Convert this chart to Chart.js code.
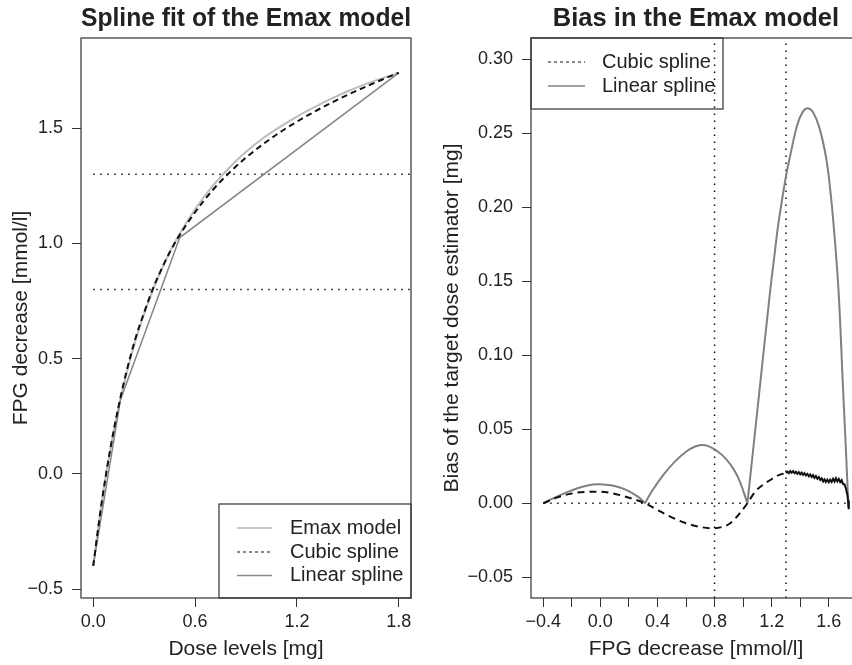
<!DOCTYPE html>
<html>
<head>
<meta charset="utf-8">
<script src="https://cdn.jsdelivr.net/npm/chart.js@4.4.1/dist/chart.umd.min.js"></script>
<style>
  html, body { margin: 0; padding: 0; background: #fff; overflow: hidden; }
  body { position: relative; width: 852px; height: 665px; }
  canvas { position: absolute; top: 0; }
  #fitChart { left: 0; }
  #biasChart { left: 430px; }
</style>
</head>
<body>
<canvas id="fitChart" width="430" height="665"></canvas>
<canvas id="biasChart" width="440" height="665"></canvas>
<script>
// left panel: fitted curves over dose
const doses = [0, 0.05, 0.1, 0.15, 0.2, 0.25, 0.3, 0.35, 0.4, 0.45, 0.5, 0.6, 0.7, 0.8, 0.9, 1.0, 1.1, 1.2, 1.3, 1.4, 1.5, 1.6, 1.7, 1.8];
const emaxCurve = [-0.4, -0.122, 0.104, 0.29, 0.446, 0.58, 0.694, 0.795, 0.882, 0.96, 1.03, 1.148, 1.246, 1.327, 1.397, 1.456, 1.505, 1.55, 1.59, 1.627, 1.66, 1.69, 1.716, 1.74];
const cubicCurve = [-0.4, -0.125, 0.105, 0.295, 0.455, 0.59, 0.70, 0.80, 0.885, 0.96, 1.025, 1.135, 1.228, 1.305, 1.372, 1.43, 1.482, 1.528, 1.57, 1.609, 1.645, 1.678, 1.71, 1.74];
const linKnots = [0, 0.16, 0.51, 1.8];
const linCurve = [-0.4, 0.32, 1.025, 1.74];
const targetFPG = [0.8, 1.3];

// right panel: bias over FPG decrease
const biasLinX1 = [-0.4, -0.32, -0.24, -0.16, -0.08, -0.02, 0.04, 0.10, 0.16, 0.22, 0.27, 0.313];
const biasLinY1 = [0, 0.0038, 0.0072, 0.0102, 0.0122, 0.0128, 0.0126, 0.0117, 0.0099, 0.0070, 0.0040, 0];
const biasLinX2 = [0.313, 0.36, 0.44, 0.52, 0.60, 0.66, 0.711, 0.76, 0.82, 0.88, 0.94, 0.98, 1.03];
const biasLinY2 = [0, 0.008, 0.019, 0.028, 0.0348, 0.0382, 0.0394, 0.0385, 0.0352, 0.030, 0.022, 0.014, 0];
const biasLinX3 = [1.03, 1.11, 1.19, 1.22, 1.247, 1.30, 1.33, 1.38, 1.42, 1.453, 1.49, 1.535, 1.582, 1.61, 1.633, 1.668, 1.70, 1.72, 1.738];
const biasLinY3 = [0, 0.072, 0.144, 0.168, 0.189, 0.221, 0.235, 0.256, 0.2648, 0.267, 0.2642, 0.2535, 0.233, 0.212, 0.189, 0.144, 0.077, 0.036, -0.0034];
const cubBiasX = [-0.4, -0.3, -0.2, -0.1, -0.02, 0.06, 0.14, 0.22, 0.313, 0.40, 0.50, 0.60, 0.70, 0.79, 0.86, 0.91, 0.97, 1.03, 1.084, 1.154, 1.21, 1.25, 1.30];
const cubBiasY = [0, 0.0040, 0.0066, 0.0077, 0.0078, 0.0072, 0.0055, 0.0032, 0, -0.0045, -0.0095, -0.0135, -0.0160, -0.0169, -0.0158, -0.0135, -0.0075, 0, 0.0078, 0.0135, 0.0169, 0.019, 0.0205];
const cubTailX = [1.30, 1.31, 1.32, 1.33, 1.34, 1.35, 1.36, 1.37, 1.38, 1.39, 1.40, 1.41, 1.42, 1.43, 1.44, 1.45, 1.46, 1.47, 1.48, 1.49, 1.50, 1.51, 1.52, 1.53, 1.54, 1.55, 1.56, 1.57, 1.58, 1.59, 1.60, 1.61, 1.62, 1.63, 1.64, 1.65, 1.66, 1.67, 1.68, 1.69, 1.70, 1.71, 1.72, 1.73, 1.735, 1.74];
const cubTailY = [0.0205, 0.0214, 0.0204, 0.0218, 0.0207, 0.0217, 0.0203, 0.0213, 0.0199, 0.0210, 0.0196, 0.0207, 0.0192, 0.0203, 0.0188, 0.0199, 0.0183, 0.0195, 0.0178, 0.0190, 0.0172, 0.0184, 0.0166, 0.0177, 0.0158, 0.0169, 0.0148, 0.0162, 0.0144, 0.0160, 0.0143, 0.0160, 0.0144, 0.0165, 0.0146, 0.0169, 0.0148, 0.0165, 0.0143, 0.0156, 0.0130, 0.0128, 0.0100, 0.0058, 0.0018, -0.0040];
const biasZeroX = [-0.4, 1.745];

// axes
const fitXRange = [-0.072, 1.872];
const fitYRange = [-0.539, 1.891];
const fitXTicks = [0, 0.6, 1.2, 1.8];
const fitXLabels = ["0.0", "0.6", "1.2", "1.8"];
const fitYTicks = [-0.5, 0, 0.5, 1.0, 1.5];
const fitYLabels = ["\u22120.5", "0.0", "0.5", "1.0", "1.5"];
const biasXRange = [-0.4856, 1.8256];
const biasYRange = [-0.064, 0.3144];
const biasXTicks = [-0.4, -0.2, 0, 0.2, 0.4, 0.6, 0.8, 1.0, 1.2, 1.4, 1.6];
const biasXLabels = ["\u22120.4", "", "0.0", "", "0.4", "", "0.8", "", "1.2", "", "1.6"];
const biasYTicks = [-0.05, 0, 0.05, 0.10, 0.15, 0.20, 0.25, 0.30];
const biasYLabels = ["\u22120.05", "0.00", "0.05", "0.10", "0.15", "0.20", "0.25", "0.30"];

const fitLegendLabels = ["Emax model", "Cubic spline", "Linear spline"];
const biasLegendLabels = ["Cubic spline", "Linear spline"];

const FONT = "'Liberation Sans', Arial, Helvetica, sans-serif";
const INK = "#222";

function pts(xs, ys) {
  return xs.map(function (x, i) { return { x: x, y: ys[i] }; });
}

// smooth: 0 = straight segments, "mono" = monotone cubic, number = tension
function line(data, color, width, dash, smooth) {
  return {
    data: data,
    showLine: true,
    borderColor: color,
    borderWidth: width,
    borderDash: dash || [],
    pointRadius: 0,
    fill: false,
    cubicInterpolationMode: smooth === "mono" ? "monotone" : "default",
    tension: typeof smooth === "number" ? smooth : 0,
  };
}

function makeScale(range, tickVals, tickLabels, title, tickPad, titlePad, size) {
  return {
    type: "linear",
    min: range[0],
    max: range[1],
    afterBuildTicks: function (s) {
      s.ticks = tickVals.map(function (v) { return { value: v }; });
    },
    afterFit: function (s) {
      if (s.isHorizontal()) s.height = size; else s.width = size;
    },
    ticks: {
      callback: function (v, i) { return tickLabels[i]; },
      font: { family: FONT, size: 18 },
      color: INK,
      padding: tickPad,
      autoSkip: false,
      maxRotation: 0,
    },
    grid: { drawOnChartArea: false, drawTicks: true, tickLength: 9, tickColor: "#333", tickWidth: 1 },
    border: { display: false },
    title: { display: true, text: title, font: { family: FONT, size: 21 }, color: INK, padding: titlePad },
  };
}

// frame round the plot area and the boxed legend
const frameAndLegend = {
  id: "frameAndLegend",
  afterDatasetsDraw: function (chart, args, opts) {
    const ctx = chart.ctx;
    const a = chart.chartArea;
    ctx.save();
    ctx.strokeStyle = "#333";
    ctx.lineWidth = 1.2;
    ctx.setLineDash([]);
    ctx.strokeRect(a.left, a.top, a.right - a.left, a.bottom - a.top);

    const b = opts.box;
    ctx.strokeRect(b[0], b[1], b[2] - b[0], b[3] - b[1]);
    ctx.font = "20px " + FONT;
    ctx.fillStyle = INK;
    ctx.textBaseline = "middle";
    ctx.textAlign = "left";
    opts.items.forEach(function (it, i) {
      const y = opts.rows[i];
      ctx.beginPath();
      ctx.strokeStyle = it.color;
      ctx.lineWidth = it.width;
      ctx.setLineDash(it.dash || []);
      ctx.moveTo(opts.sample[0], y);
      ctx.lineTo(opts.sample[1], y);
      ctx.stroke();
      ctx.fillText(opts.labels[i], opts.textX, y);
    });
    ctx.restore();
  },
};

const dotted = [1.5, 5.5];
const titleFont = { family: FONT, size: 25.5, weight: "bold" };

new Chart(document.getElementById("fitChart"), {
  type: "scatter",
  data: {
    datasets: [
      line(pts(doses, cubicCurve), "#111", 2, [6, 4], "mono"),
      line(pts(linKnots, linCurve), "#858585", 1.5, null, 0),
      line(pts(doses, emaxCurve), "#bdbdbd", 2, null, "mono"),
      line(pts([0, fitXRange[1]], [targetFPG[0], targetFPG[0]]), "#111", 1.5, dotted, 0),
      line(pts([0, fitXRange[1]], [targetFPG[1], targetFPG[1]]), "#111", 1.5, dotted, 0),
    ],
  },
  options: {
    responsive: false,
    animation: false,
    events: [],
    layout: { padding: { right: 19 } },
    scales: {
      x: makeScale(fitXRange, fitXTicks, fitXLabels, "Dose levels [mg]", 4, { bottom: 3 }, 67),
      y: makeScale(fitYRange, fitYTicks, fitYLabels, "FPG decrease [mmol/l]", 9, { top: 9 }, 81),
    },
    plugins: {
      legend: { display: false },
      tooltip: { enabled: false },
      title: {
        display: true,
        text: "Spline fit of the Emax model",
        font: titleFont,
        color: INK,
        padding: { top: 4, bottom: 3.4 },
        fullSize: false,
      },
      frameAndLegend: {
        box: [219, 504, 411, 598],
        sample: [237, 272],
        textX: 290,
        rows: [528, 552, 575.5],
        labels: fitLegendLabels,
        items: [
          { color: "#c8c8c8", width: 2 },
          { color: "#111", width: 1, dash: [3, 3] },
          { color: "#8a8a8a", width: 1.5 },
        ],
      },
    },
  },
  plugins: [frameAndLegend],
});

new Chart(document.getElementById("biasChart"), {
  type: "scatter",
  data: {
    datasets: [
      line(pts(cubBiasX, cubBiasY), "#111", 2, [7, 5], "mono"),
      line(pts(cubTailX, cubTailY), "#111", 2, null, 0),
      line(pts(biasLinX1, biasLinY1), "#808080", 2, null, 0.4),
      line(pts(biasLinX2, biasLinY2), "#808080", 2, null, 0.4),
      line(pts(biasLinX3, biasLinY3), "#808080", 2, null, 0.4),
      line(pts(biasZeroX, [0, 0]), "#111", 1.5, dotted, 0),
      line(pts([targetFPG[0], targetFPG[0]], biasYRange), "#111", 1.5, dotted, 0),
      line(pts([targetFPG[1], targetFPG[1]], biasYRange), "#111", 1.5, dotted, 0),
    ],
  },
  options: {
    responsive: false,
    animation: false,
    events: [],
    layout: { padding: { right: 9 } },
    scales: {
      x: makeScale(biasXRange, biasXTicks, biasXLabels, "FPG decrease [mmol/l]", 4, { bottom: 3 }, 67),
      y: makeScale(biasYRange, biasYTicks, biasYLabels, "Bias of the target dose estimator [mg]", 9, { top: 10 }, 101),
    },
    plugins: {
      legend: { display: false },
      tooltip: { enabled: false },
      title: {
        display: true,
        text: "Bias in the Emax model",
        font: titleFont,
        color: INK,
        padding: { top: 4, bottom: 3.4 },
        fullSize: false,
      },
      frameAndLegend: {
        box: [101, 38, 293, 109],
        sample: [118, 155],
        textX: 172,
        rows: [62, 86],
        labels: biasLegendLabels,
        items: [
          { color: "#111", width: 1, dash: [3, 3] },
          { color: "#808080", width: 1.5 },
        ],
      },
    },
  },
  plugins: [frameAndLegend],
});
</script>
</body>
</html>
